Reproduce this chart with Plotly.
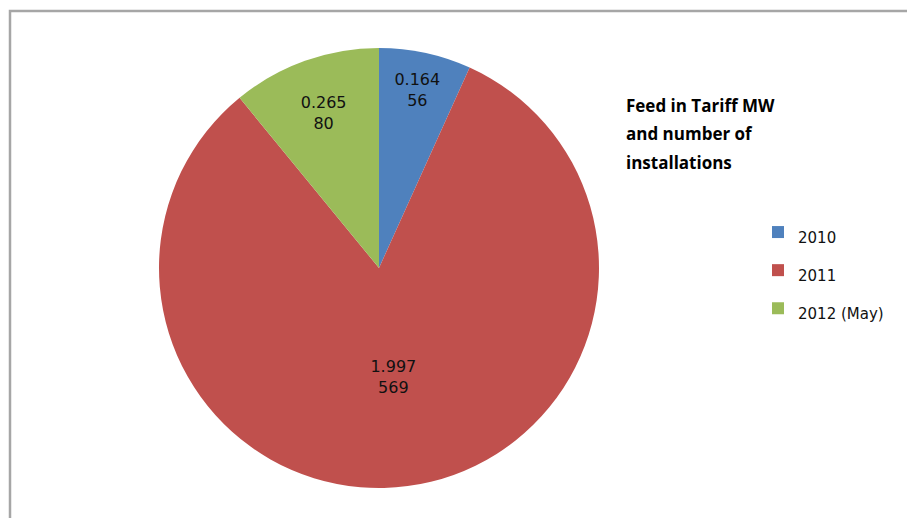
import plotly.graph_objects as go

years = ["2010", "2011", "2012 (May)"]
mw = [0.164, 1.997, 0.265]
installations = [56, 569, 80]
colors = ["#4F81BD", "#C0504D", "#9BBB59"]
title_lines = ["Feed in Tariff MW", "and number of", "installations"]

W, H = 907, 518
cx, cy, d = 379, 268, 440

# legend labels: smaller visible text inside a taller legend row
legend_labels = ['<span style="font-size:15px">%s</span>' % y for y in years]

fig = go.Figure()
fig.add_trace(go.Pie(
    labels=legend_labels,
    values=mw,
    customdata=installations,
    sort=False,
    direction="clockwise",
    rotation=0,
    marker=dict(colors=colors, line=dict(width=0)),
    texttemplate="%{value}<br>%{customdata}",
    textposition="inside",
    insidetextorientation="horizontal",
    textfont=dict(family="DejaVu Sans", size=16, color="#111111"),
    hovertemplate="%{label}: %{value}<extra></extra>",
    domain=dict(x=[(cx - d / 2) / W, (cx + d / 2) / W],
                y=[(H - cy - d / 2) / H, (H - cy + d / 2) / H]),
    showlegend=True,
))

for i, line in enumerate(title_lines):
    fig.add_annotation(
        text=line, xref="paper", yref="paper",
        x=624 / W, y=1 - (105 + 29 * i) / H,
        xanchor="left", yanchor="middle", showarrow=False,
        font=dict(family="Open Sans", size=17, color="#000000", weight="bold"),
    )

fig.add_shape(type="rect", xref="paper", yref="paper",
              x0=10 / W, x1=1.02, y0=-0.02, y1=1 - 11 / H,
              line=dict(color="#a6a6a6", width=2.5), fillcolor="rgba(0,0,0,0)")

fig.update_layout(
    width=W, height=H,
    margin=dict(l=0, r=0, t=0, b=0),
    paper_bgcolor="white",
    plot_bgcolor="white",
    uniformtext=dict(minsize=10, mode="show"),
    legend=dict(
        x=758 / W, y=1 - 208 / H, xanchor="left", yanchor="top",
        font=dict(family="DejaVu Sans", size=27, color="#111111"),
        bgcolor="rgba(0,0,0,0)",
        itemwidth=30,
        tracegroupgap=0,
    ),
)

fig.write_html("out.html")
